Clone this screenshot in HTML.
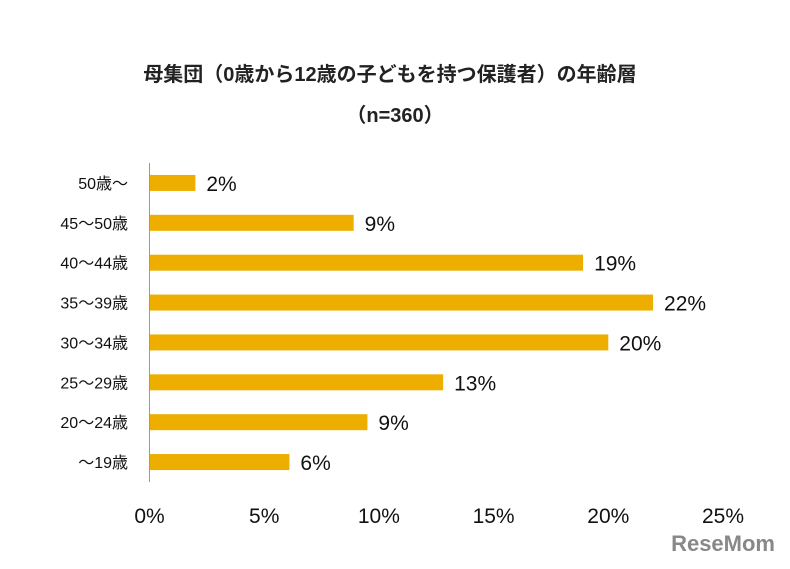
<!DOCTYPE html>
<html><head><meta charset="utf-8">
<style>
body{margin:0;background:#fff;}
svg text{font-family:"Liberation Sans","Noto Sans CJK JP",sans-serif;}
</style></head>
<body>
<svg id="chart" width="790" height="564" xmlns="http://www.w3.org/2000/svg">
<text x="390" y="81" text-anchor="middle" font-size="20" font-weight="bold" fill="#222">母集団（0歳から12歳の子どもを持つ保護者）の年齢層</text>
<text x="395" y="122" text-anchor="middle" font-size="20" font-weight="bold" fill="#222">（n=360）</text>
<g id="bars"></g>
<g id="xticks"></g>
<line x1="149.5" y1="163" x2="149.5" y2="482" stroke="#999" stroke-width="1"/>
<text x="775" y="551" text-anchor="end" font-size="22" font-weight="bold" fill="#888">ReseMom</text>
</svg>
<script>
const categories = ["50歳〜","45〜50歳","40〜44歳","35〜39歳","30〜34歳","25〜29歳","20〜24歳","〜19歳"];
const values = [2.0, 8.9, 18.9, 21.95, 20.0, 12.8, 9.5, 6.1];
const valueLabels = ["2%","9%","19%","22%","20%","13%","9%","6%"];
const tickValues = [0,5,10,15,20,25];
const tickLabels = ["0%","5%","10%","15%","20%","25%"];

const NS="http://www.w3.org/2000/svg";
const x0=149.5, x1=723, maxV=25;
const xs=v=>x0+(v/maxV)*(x1-x0);
const yTop=163, yBot=482, band=(yBot-yTop)/categories.length;
const yc=i=>yTop+band*(i+0.5);
const bars=document.getElementById('bars');
categories.forEach((c,i)=>{
  const r=document.createElementNS(NS,'rect');
  r.setAttribute('x',x0);r.setAttribute('y',yc(i)-8);
  r.setAttribute('width',xs(values[i])-x0);r.setAttribute('height',16);
  r.setAttribute('fill','#EDAE00');
  
  
  bars.appendChild(r);
  const t=document.createElementNS(NS,'text');
  t.setAttribute('x',xs(values[i])+11);t.setAttribute('y',yc(i)+8);
  t.setAttribute('font-size','21');t.setAttribute('fill','#111');
  t.textContent=valueLabels[i];
  
  
  bars.appendChild(t);
  const l=document.createElementNS(NS,'text');
  l.setAttribute('x',128);l.setAttribute('y',yc(i)+6);
  l.setAttribute('text-anchor','end');l.setAttribute('font-size','16');l.setAttribute('fill','#111');
  l.textContent=c;
  
  
  bars.appendChild(l);
});
const xt=document.getElementById('xticks');
tickValues.forEach((v,i)=>{
  const t=document.createElementNS(NS,'text');
  t.setAttribute('x',xs(v));t.setAttribute('y',523);
  t.setAttribute('text-anchor','middle');t.setAttribute('font-size','21');t.setAttribute('fill','#111');
  t.textContent=tickLabels[i];
  
  
  xt.appendChild(t);
});
</script>
</body></html>
